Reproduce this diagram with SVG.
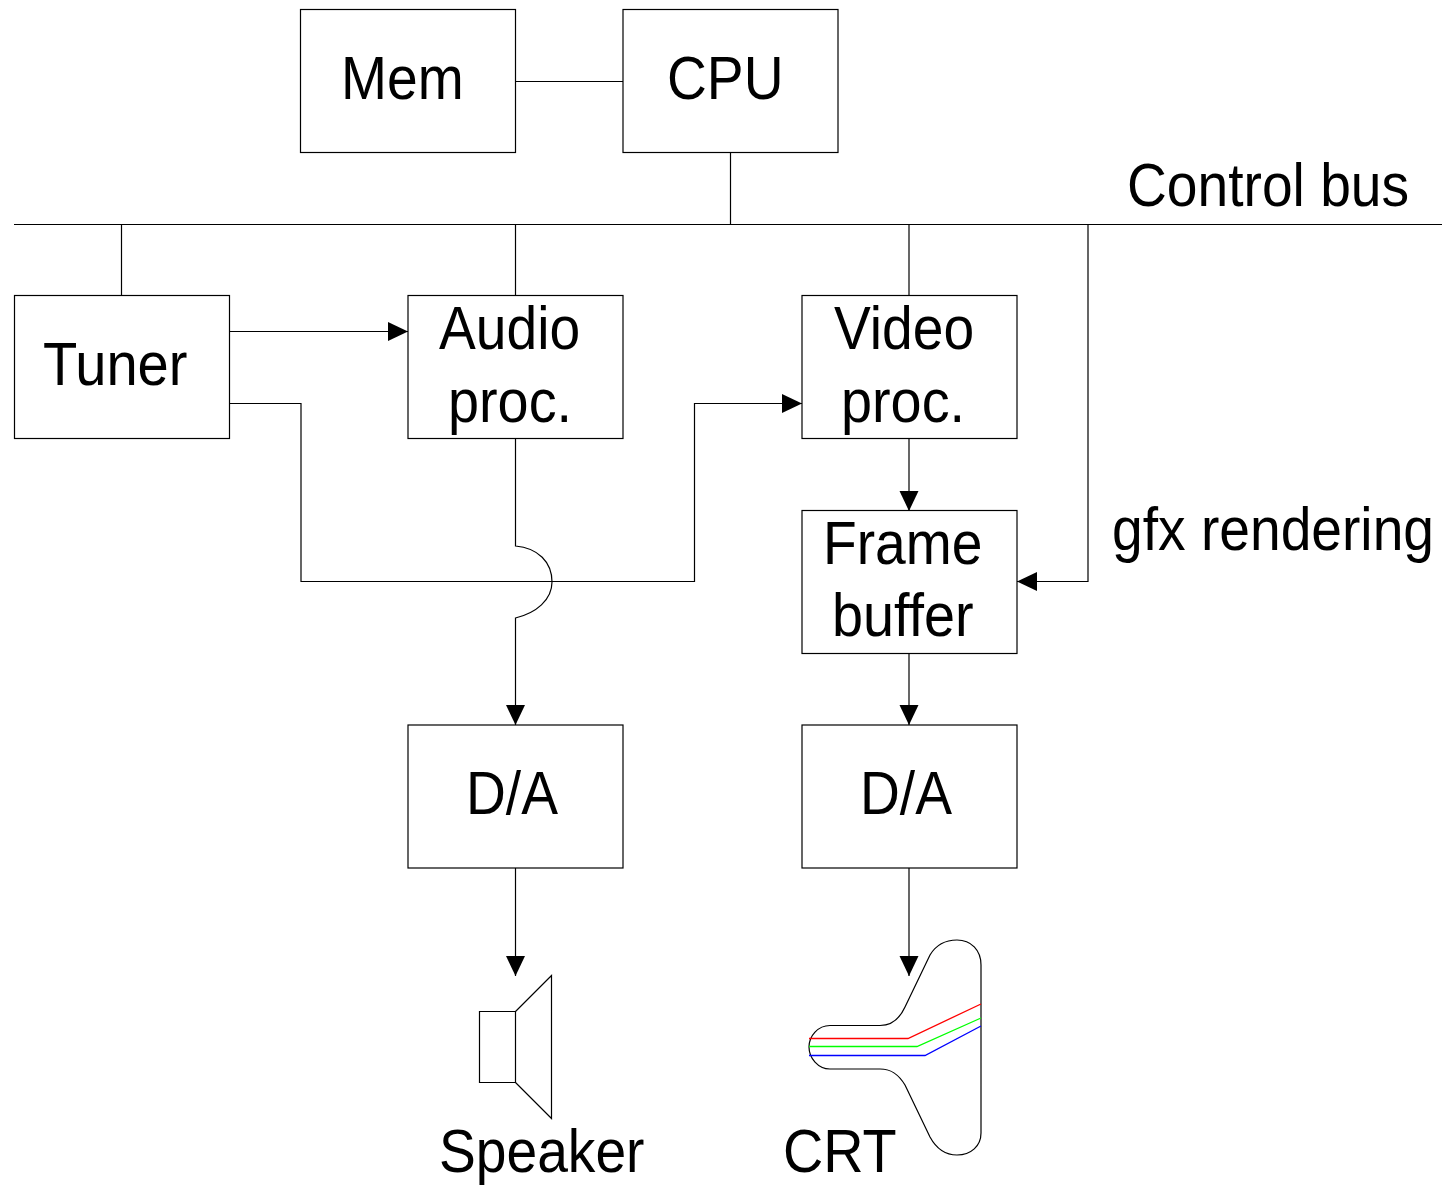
<svg xmlns="http://www.w3.org/2000/svg" width="1442" height="1186" viewBox="0 0 1442 1186">
<defs><marker id="a" markerUnits="userSpaceOnUse" markerWidth="20" markerHeight="20" refX="20" refY="10" orient="auto"><path d="M0 0.500L20 10L0 19.500Z" fill="#000"/></marker></defs>
<style>.b{fill:#fff;stroke:#000;stroke-width:1.200}.l{fill:none;stroke:#000;stroke-width:1.200}.c{fill:none;stroke-width:1.300}.a{marker-end:url(#a)}text{font-family:"Liberation Sans",Arial,sans-serif;font-size:62px;fill:#000}</style>
<rect width="1442" height="1186" fill="#fff"/>
<g id="connectors">
<path class="l" d="M515.500 81.500H623"/><path class="l" d="M730.500 152V224"/><path class="l" d="M14 224.500H1442"/>
<path class="l" d="M121.500 224V296"/><path class="l" d="M515.500 224V296"/><path class="l" d="M909 224V296"/>
<path class="l a" d="M229.500 331.500H408"/>
<path class="l a" d="M229.500 403.500H301V581.500H694.500V403.500H802"/>
<path class="l a" d="M515.500 439V546C538 548 552 562 552 582C552 600 536 613 515.500 618V725"/>
<path class="l a" d="M909 439V511"/>
<path class="l a" d="M1088 224V581.500H1017"/>
<path class="l a" d="M909 654V725"/>
<path class="l a" d="M515.500 868V976"/>
<path class="l a" d="M909 868V976"/>
</g>
<g id="mem"><rect class="b" x="300.500" y="9.500" width="215" height="143"/><text transform="translate(341 99) scale(.89 1)">Mem</text></g>
<g id="cpu"><rect class="b" x="623" y="9.500" width="215" height="143"/><text transform="translate(667 99) scale(.89 1)">CPU</text></g>
<g id="control-bus"><text transform="translate(1127 206) scale(.89 1)">Control bus</text></g>
<g id="tuner"><rect class="b" x="14.500" y="295.500" width="215" height="143"/><text transform="translate(43 385) scale(.905 1)">Tuner</text></g>
<g id="audio"><rect class="b" x="408" y="295.500" width="215" height="143"/><text transform="translate(439 349) scale(.89 1)">Audio</text><text transform="translate(448 422) scale(.9 1)">proc.</text></g>
<g id="video"><rect class="b" x="802" y="295.500" width="215" height="143"/><text transform="translate(834 349) scale(.89 1)">Video</text><text transform="translate(841 422) scale(.9 1)">proc.</text></g>
<g id="frame"><rect class="b" x="802" y="510.500" width="215" height="143"/><text transform="translate(823 564) scale(.89 1)">Frame</text><text transform="translate(832 636) scale(.9 1)">buffer</text></g>
<g id="gfx"><text transform="translate(1112 550) scale(.89 1)">gfx rendering</text></g>
<g id="da1"><rect class="b" x="408" y="725" width="215" height="143"/><text transform="translate(466 814) scale(.89 1)">D/A</text></g>
<g id="da2"><rect class="b" x="802" y="725" width="215" height="143"/><text transform="translate(860 814) scale(.89 1)">D/A</text></g>
<g id="speaker"><path class="l" d="M479.500 1011.500H515.500V1082.500H479.500ZM515.500 1011.500L551.500 975.500V1118.500L515.500 1082.500"/><text transform="translate(439 1172) scale(.89 1)">Speaker</text></g>
<g id="crt"><path class="l" d="M830 1025.500H880C892 1025.500 900 1018 905 1007L930 955C936 945 945 940 957 940C971 940 981 950 981 965V1133C981 1146 971 1155 957 1155C945 1155 936 1148 930 1137L905 1085C899 1075 892 1069 880 1069H830C818 1069 809 1058 809 1047C809 1036 818 1025.500 830 1025.500Z"/>
<path class="c" d="M809 1038.500H908L981 1004" stroke="#f00"/><path class="c" d="M809 1046.500H917L981 1018" stroke="#0f0"/><path class="c" d="M809 1055.500H925L981 1026" stroke="#00f"/><text transform="translate(783 1172) scale(.9 1)">CRT</text></g>
</svg>
